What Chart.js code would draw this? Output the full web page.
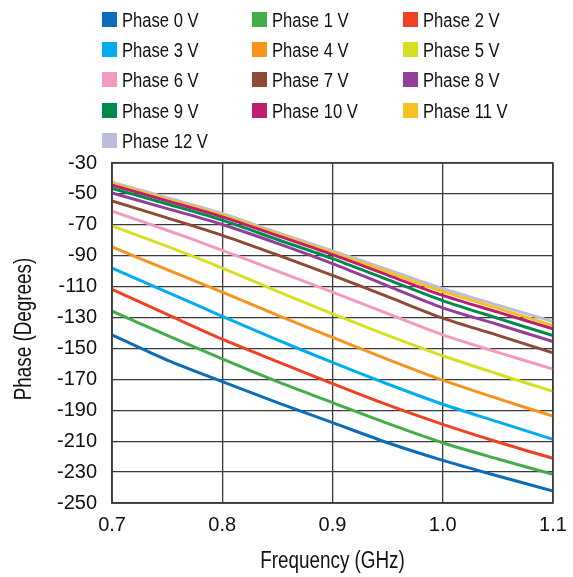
<!DOCTYPE html>
<html>
<head>
<meta charset="utf-8">
<script src="https://cdn.jsdelivr.net/npm/chart.js"></script>
<style>
  html, body { margin: 0; padding: 0; background: #fff; }
  #wrap { position: relative; width: 573px; height: 577px; }
  #phaseChart { position: absolute; left: 0; top: 0; }
  #legend { position: absolute; left: 0; top: 0; width: 573px; height: 160px;
            font-family: "Liberation Sans", Arial, sans-serif; font-size: 20px; color: #111; }
  .item { position: absolute; height: 15px; line-height: 15px; white-space: nowrap; }
  .item .sw { position: absolute; left: 0; top: 0; width: 15px; height: 15px; }
  .item .tx { position: absolute; left: 20px; top: 1px; transform: scaleX(0.83); transform-origin: left center; }
</style>
</head>
<body>
<div id="wrap">
  <canvas id="phaseChart" width="573" height="577"></canvas>
  <div id="legend"></div>
</div>
<script>
const freqs = [0.7, 0.75, 0.8, 0.85, 0.9, 0.95, 1.0, 1.05, 1.1];

const phase0  = [-141.2, -157.5, -171.4, -185.0, -198.0, -211.0, -222.4, -232.5, -242.3];
const phase1  = [-125.9, -141.5, -156.8, -171.5, -185.0, -198.5, -211.0, -221.5, -231.5];
const phase2  = [-111.8, -128.0, -144.0, -158.5, -172.7, -186.5, -199.1, -210.5, -221.1];
const phase3  = [-98.0, -113.5, -129.2, -144.5, -159.0, -173.0, -186.1, -197.5, -208.8];
const phase4  = [-84.3, -99.0, -113.6, -128.5, -142.8, -157.0, -170.5, -182.5, -193.8];
const phase5  = [-70.7, -84.0, -98.0, -113.0, -127.6, -141.5, -154.7, -166.5, -177.8];
const phase6  = [-61.2, -73.5, -86.5, -100.0, -113.6, -127.5, -141.2, -152.5, -163.3];
const phase7  = [-54.5, -65.5, -76.8, -89.5, -102.7, -116.5, -130.4, -141.5, -152.9];
const phase8  = [-49.3, -59.5, -69.8, -82.0, -95.1, -109.5, -123.7, -134.5, -145.6];
const phase9  = [-46.4, -56.5, -67.0, -79.5, -91.9, -105.5, -119.0, -130.5, -141.7];
const phase10 = [-44.3, -54.5, -64.9, -77.0, -89.3, -102.5, -115.7, -126.5, -137.3];
const phase11 = [-43.2, -53.5, -63.8, -76.0, -88.0, -100.5, -113.1, -124.0, -135.2];
const phase12 = [-42.5, -52.5, -62.7, -75.0, -86.9, -99.0, -111.4, -122.0, -132.6];

const seriesNames = ["Phase 0 V", "Phase 1 V", "Phase 2 V", "Phase 3 V", "Phase 4 V", "Phase 5 V", "Phase 6 V",
                     "Phase 7 V", "Phase 8 V", "Phase 9 V", "Phase 10 V", "Phase 11 V", "Phase 12 V"];
const seriesColors = ["#0b6cb8", "#43ad49", "#ef4123", "#00aeef", "#f7941d", "#d7df23", "#f49ac1",
                      "#8f4a36", "#923f98", "#00894c", "#be1e6e", "#f4c323", "#bcbcdc"];
const seriesValues = [phase0, phase1, phase2, phase3, phase4, phase5, phase6,
                      phase7, phase8, phase9, phase10, phase11, phase12];

const xTicks = [0.7, 0.8, 0.9, 1.0, 1.1];
const yTicks = [-250, -230, -210, -190, -170, -150, -130, -110, -90, -70, -50, -30];

const xTitle = 'Frequency (GHz)';
const yTitle = 'Phase (Degrees)';

const regular = "'Liberation Sans', Arial, sans-serif";

// legend: 3 columns, built from the series names/colours
const legendEl = document.getElementById('legend');
const colX = [102, 252, 403];
const rowY = [12, 42, 72, 103, 133];
seriesNames.forEach((name, i) => {
  const it = document.createElement('div');
  it.className = 'item';
  it.style.left = colX[i % 3] + 'px';
  it.style.top = rowY[Math.floor(i / 3)] + 'px';
  it.innerHTML = `<span class="sw" style="background:${seriesColors[i]}"></span><span class="tx">${name}</span>`;
  legendEl.appendChild(it);
});

const datasets = seriesNames.map((name, i) => ({
  label: name,
  data: freqs.map((f, j) => ({ x: f, y: seriesValues[i][j] })),
  borderColor: seriesColors[i],
  backgroundColor: seriesColors[i],
  borderWidth: 3,
  pointRadius: 0,
  tension: 0.3,
  fill: false
}));

const gridColor = '#3a3a3a';

// frame around the plot + condensed axis titles
const framePlugin = {
  id: 'frame',
  afterDraw(chart) {
    const { ctx, chartArea: a } = chart;
    ctx.save();
    ctx.strokeStyle = gridColor;
    ctx.lineWidth = 1.5;
    ctx.strokeRect(a.left, a.top, a.right - a.left, a.bottom - a.top);

    ctx.fillStyle = '#111';
    ctx.font = `23px ${regular}`;
    ctx.textAlign = 'center';
    ctx.textBaseline = 'middle';

    ctx.save();
    ctx.translate((a.left + a.right) / 2, 562);
    ctx.scale(0.82, 1);
    ctx.fillText(xTitle, 0, 0);
    ctx.restore();

    ctx.save();
    ctx.translate(25, (a.top + a.bottom) / 2 - 4);
    ctx.rotate(-Math.PI / 2);
    ctx.scale(0.82, 1);
    ctx.fillText(yTitle, 0, 0);
    ctx.restore();

    ctx.restore();
  }
};

new Chart(document.getElementById('phaseChart').getContext('2d'), {
  type: 'line',
  data: { datasets },
  options: {
    responsive: false,
    animation: false,
    layout: { padding: { top: 163, right: 20, bottom: 30, left: 42 } },
    plugins: { legend: { display: false }, tooltip: { enabled: false } },
    scales: {
      x: {
        type: 'linear',
        min: 0.7,
        max: 1.1,
        afterBuildTicks: axis => { axis.ticks = xTicks.map(v => ({ value: v })); },
        // end labels may hang into the page margin
        afterFit: axis => { axis.paddingLeft = 0; axis.paddingRight = 0; },
        ticks: {
          color: '#111',
          padding: 10,
          font: { family: regular, size: 20 },
          callback: v => v.toFixed(1)
        },
        grid: { color: gridColor, lineWidth: 1.3, drawTicks: false },
        border: { color: gridColor, width: 1.5 }
      },
      y: {
        min: -250,
        max: -30,
        afterBuildTicks: axis => { axis.ticks = yTicks.map(v => ({ value: v })); },
        ticks: {
          color: '#111',
          padding: 15,
          font: { family: regular, size: 20 }
        },
        grid: { color: gridColor, lineWidth: 1.3, drawTicks: false },
        border: { color: gridColor, width: 1.5 }
      }
    }
  },
  plugins: [framePlugin]
});
</script>
</body>
</html>
